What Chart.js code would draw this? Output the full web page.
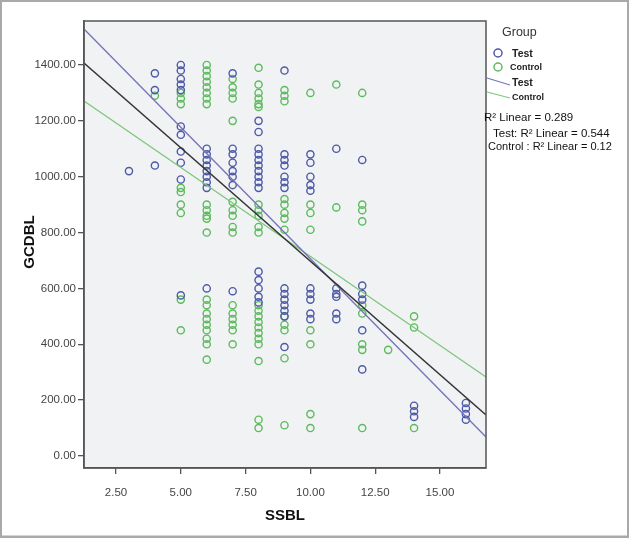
<!DOCTYPE html>
<html><head><meta charset="utf-8">
<script src="https://cdn.jsdelivr.net/npm/chart.js@4"></script>
<style>html,body{margin:0;padding:0;background:#fff}#wrap{position:relative;width:629px;height:538px}</style>
</head><body><div id="wrap"><canvas id="c"></canvas></div>
<script>
// ---- data ----
const ssblLevels = [3, 4, 5, 6, 7, 8, 9, 10, 11, 12, 13, 14, 16];
const testGCDBL = [
  [1020],
  [1370, 1310, 1040],
  [1400, 1380, 1350, 1330, 1310, 1180, 1150, 1090, 1050, 990, 575],
  [1100, 1080, 1060, 1040, 1020, 1000, 980, 960, 600],
  [1370, 1100, 1080, 1050, 1020, 1000, 970, 590],
  [1200, 1160, 1100, 1080, 1060, 1040, 1020, 1000, 980, 960, 660, 630, 600, 570, 550],
  [1380, 1080, 1060, 1040, 1000, 980, 960, 600, 580, 560, 540, 520, 500, 390],
  [1080, 1050, 1000, 970, 950, 600, 580, 560, 510, 490],
  [1100, 600, 580, 570, 510, 490],
  [1060, 610, 580, 560, 450, 310],
  [],
  [180, 160, 140],
  [190, 170, 150, 130]
];
const controlGCDBL = [
  [],
  [1290],
  [1300, 1280, 1260, 960, 945, 900, 870, 560, 450],
  [1400, 1380, 1360, 1340, 1320, 1300, 1280, 1260, 900, 880, 860, 850, 800, 560, 540, 510, 490, 470, 450, 420, 400, 345],
  [1350, 1320, 1300, 1280, 1200, 910, 880, 860, 820, 800, 540, 510, 490, 470, 450, 400],
  [1390, 1330, 1300, 1280, 1260, 1250, 900, 880, 860, 820, 800, 540, 520, 500, 480, 460, 440, 420, 400, 340, 130, 100],
  [1310, 1290, 1270, 920, 900, 870, 850, 810, 500, 470, 450, 350, 110],
  [1300, 900, 870, 810, 450, 400, 150, 100],
  [1330, 890],
  [1300, 900, 880, 840, 540, 510, 400, 380, 100],
  [380],
  [500, 460, 100],
  []
];
const xTickValues = [2.5, 5, 7.5, 10, 12.5, 15];
const yTickValues = [0, 200, 400, 600, 800, 1000, 1200, 1400];
// fit lines: GCDBL at the two ends of the SSBL range
const fitSSBL = [1.265, 16.775];
const fitTotal = [1407, 147];
const fitTest = [1529, 68];
const fitControl = [1271, 283];
const groupNames = ['Test', 'Control'];
const r2Labels = ['R\u00b2 Linear = 0.289', 'Test: R\u00b2 Linear = 0.544', 'Control : R\u00b2 Linear = 0.12'];

// ---- build ----
function toPoints(cols) {
  const out = [];
  cols.forEach((vals, i) => vals.forEach(v => out.push({x: ssblLevels[i], y: v})));
  return out;
}
function fitPoints(ys) { return fitSSBL.map((x, i) => ({x: x, y: ys[i]})); }

const BLUE = '#4d5aa8', GREEN = '#5dbb5d';
const LBLUE = '#7474b8', LGREEN = '#7cc67c';
const FONT = '"Liberation Sans", Arial, sans-serif';

const deco = {
  id: 'deco',
  beforeDraw(chart) {
    const {ctx, chartArea: a} = chart;
    ctx.save();
    ctx.fillStyle = '#ffffff';
    ctx.fillRect(0, 0, chart.width, chart.height);
    ctx.fillStyle = '#f1f2f4';
    ctx.fillRect(a.left, a.top, a.right - a.left, a.bottom - a.top);
    ctx.restore();
  },
  afterDraw(chart) {
    const {ctx, chartArea: a} = chart;
    ctx.save();
    ctx.strokeStyle = '#555';
    ctx.lineWidth = 1.5;
    ctx.strokeRect(a.left, a.top, a.right - a.left, a.bottom - a.top);
    // outer frame
    ctx.strokeStyle = '#a9a9a9';
    ctx.lineWidth = 3;
    ctx.strokeRect(0.5, 0.5, chart.width - 1, chart.height - 1.5);
    // axis titles
    ctx.fillStyle = '#111';
    ctx.font = 'bold 15px ' + FONT;
    ctx.textAlign = 'center';
    ctx.textBaseline = 'middle';
    ctx.fillText('SSBL', (a.left + a.right) / 2, 516);
    ctx.save();
    ctx.translate(30, 242);
    ctx.rotate(-Math.PI / 2);
    ctx.fillText('GCDBL', 0, 0);
    ctx.restore();
    // legend
    ctx.textAlign = 'left';
    ctx.fillStyle = '#333';
    ctx.font = '12.5px ' + FONT;
    ctx.fillText('Group', 502, 33);
    ctx.lineWidth = 1.5;
    ctx.strokeStyle = BLUE;
    ctx.beginPath(); ctx.arc(498, 53, 4, 0, Math.PI * 2); ctx.stroke();
    ctx.strokeStyle = GREEN;
    ctx.beginPath(); ctx.arc(498, 67, 4, 0, Math.PI * 2); ctx.stroke();
    ctx.fillStyle = '#222';
    ctx.font = 'bold 10.5px ' + FONT;
    ctx.fillText(groupNames[0], 512, 54);
    ctx.font = 'bold 9px ' + FONT;
    ctx.fillText(groupNames[1], 510, 68);
    ctx.lineWidth = 1.2;
    ctx.strokeStyle = LBLUE;
    ctx.beginPath(); ctx.moveTo(487, 78); ctx.lineTo(510, 85); ctx.stroke();
    ctx.strokeStyle = LGREEN;
    ctx.beginPath(); ctx.moveTo(487, 92); ctx.lineTo(510, 98); ctx.stroke();
    ctx.font = 'bold 10.5px ' + FONT;
    ctx.fillText(groupNames[0], 512, 83);
    ctx.font = 'bold 9px ' + FONT;
    ctx.fillText(groupNames[1], 512, 98);
    ctx.fillStyle = '#111';
    ctx.font = '11.5px ' + FONT;
    ctx.fillText(r2Labels[0], 484, 118);
    ctx.fillText(r2Labels[1], 493, 134);
    ctx.font = '11px ' + FONT;
    ctx.fillText(r2Labels[2], 488, 147);
    ctx.restore();
  }
};

const tickFont = {family: FONT, size: 11.5};
new Chart(document.getElementById('c'), {
  type: 'scatter',
  data: {
    datasets: [
      {label: 'Total fit', data: fitPoints(fitTotal), showLine: true, pointRadius: 0, borderColor: '#333', borderWidth: 1.4, order: 0},
      {label: 'Test fit', data: fitPoints(fitTest), showLine: true, pointRadius: 0, borderColor: LBLUE, borderWidth: 1.3, order: 0},
      {label: 'Control fit', data: fitPoints(fitControl), showLine: true, pointRadius: 0, borderColor: LGREEN, borderWidth: 1.3, order: 0},
      {label: 'Control', data: toPoints(controlGCDBL), pointRadius: 3.6, pointBorderWidth: 1.4, borderColor: GREEN, backgroundColor: 'rgba(0,0,0,0)', order: 2},
      {label: 'Test', data: toPoints(testGCDBL), pointRadius: 3.6, pointBorderWidth: 1.4, borderColor: BLUE, backgroundColor: 'rgba(0,0,0,0)', order: 1}
    ]
  },
  options: {
    responsive: true, maintainAspectRatio: false, animation: false,
    layout: {padding: {top: 21, right: 143, left: 0, bottom: 0}},
    plugins: {legend: {display: false}, tooltip: {enabled: false}},
    scales: {
      x: {
        type: 'linear', min: 1.265, max: 16.775,
        afterBuildTicks: s => { s.ticks = xTickValues.map(v => ({value: v})); },
        afterFit: s => { s.height = 70; },
        grid: {drawOnChartArea: false, drawTicks: true, tickLength: 6, color: '#555', lineWidth: 1.3},
        border: {color: '#555', width: 1.5},
        ticks: {padding: 12, font: tickFont, color: '#444', maxRotation: 0, autoSkip: false, callback: v => Number(v).toFixed(2)}
      },
      y: {
        type: 'linear', min: -43, max: 1557.5,
        afterBuildTicks: s => { s.ticks = yTickValues.map(v => ({value: v})); },
        afterFit: s => { s.width = 84; },
        grid: {drawOnChartArea: false, drawTicks: true, tickLength: 6, color: '#555', lineWidth: 1.3},
        border: {color: '#555', width: 1.5},
        ticks: {padding: 2, font: tickFont, color: '#444', autoSkip: false, callback: v => Number(v).toFixed(2)}
      }
    }
  },
  plugins: [deco]
});
</script>
</body></html>
